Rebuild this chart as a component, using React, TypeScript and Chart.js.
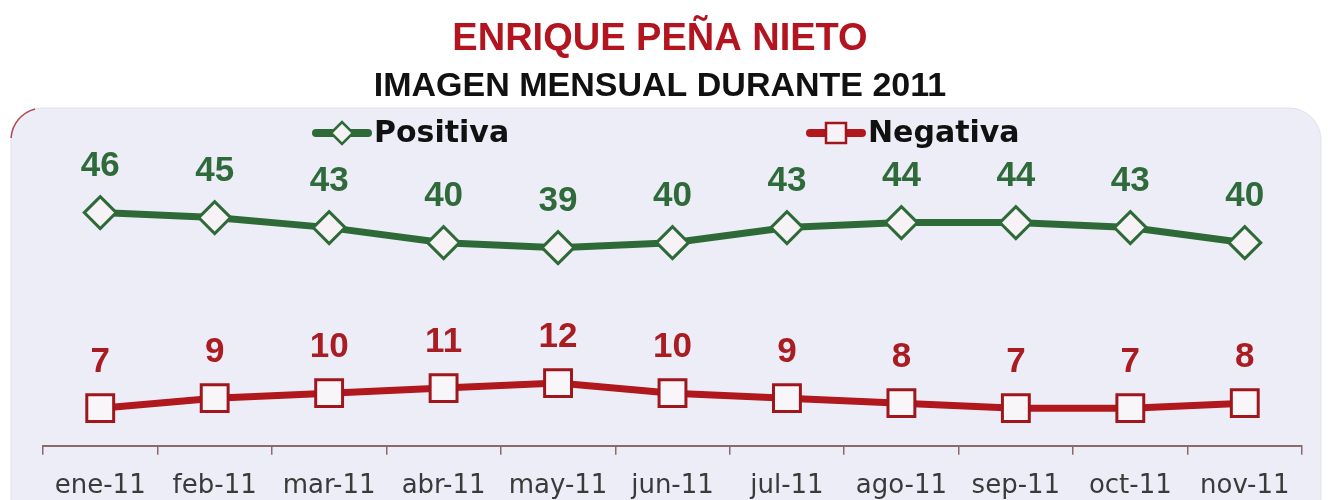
import React, { useEffect, useRef } from "react";
import { Chart, registerables } from "chart.js";

Chart.register(...registerables);

const categories = ["ene-11", "feb-11", "mar-11", "abr-11", "may-11", "jun-11", "jul-11", "ago-11", "sep-11", "oct-11", "nov-11"];
const positiva = [46, 45, 43, 40, 39, 40, 43, 44, 44, 43, 40];
const negativa = [7, 9, 10, 11, 12, 10, 9, 8, 7, 7, 8];
const seriesNames = ["Positiva", "Negativa"];
const titleText = "ENRIQUE PEÑA NIETO";
const subtitleText = "IMAGEN MENSUAL DURANTE 2011";

const GREEN = "#2E6A37";
const GREEN_LABEL = "#2F6A3A";
const RED = "#B0181E";
const RED_LABEL = "#A81C22";

const panelPlugin = {
  id: "panel",
  beforeDraw(chart: any) {
    const { ctx, width, height } = chart;
    ctx.save();
    ctx.fillStyle = "#ffffff";
    ctx.fillRect(0, 0, width, height);
    const x = 11, y = 108, r = 32;
    const w = width - x - 7;
    ctx.beginPath();
    ctx.roundRect(x, y, w, height - y + 60, r);
    ctx.fillStyle = "#EDEDF7";
    ctx.fill();
    ctx.strokeStyle = "rgba(225,225,235,1)";
    ctx.lineWidth = 1;
    ctx.stroke();
    ctx.beginPath();
    ctx.arc(x + r, y + r, r, Math.PI * 1.02, Math.PI * 1.42);
    ctx.strokeStyle = "rgba(170,45,55,0.85)";
    ctx.lineWidth = 1.5;
    ctx.stroke();
    ctx.restore();
  },
};

const legendPlugin = {
  id: "customLegend",
  afterDraw(chart: any) {
    const { ctx } = chart;
    const starts = [312, 806];
    const yy = 133;
    chart.data.datasets.forEach((ds: any, i: number) => {
      const sx = starts[i];
      ctx.save();
      ctx.lineCap = "round";
      ctx.lineWidth = 8;
      ctx.strokeStyle = ds.borderColor;
      ctx.beginPath();
      ctx.moveTo(sx + 4, yy);
      ctx.lineTo(sx + 56, yy);
      ctx.stroke();
      const cx = sx + 30;
      ctx.lineWidth = 2.5;
      ctx.fillStyle = "#F6F2F6";
      ctx.strokeStyle = ds.pointBorderColor;
      ctx.beginPath();
      if (ds.pointStyle === "rectRot") {
        const rr = 11;
        ctx.moveTo(cx - rr, yy);
        ctx.lineTo(cx, yy - rr);
        ctx.lineTo(cx + rr, yy);
        ctx.lineTo(cx, yy + rr);
        ctx.closePath();
      } else {
        const s = 10;
        ctx.rect(cx - s, yy - s, 2 * s, 2 * s);
      }
      ctx.fill();
      ctx.stroke();
      ctx.fillStyle = "#111111";
      ctx.font = "bold 30px 'DejaVu Sans'";
      ctx.textAlign = "left";
      ctx.textBaseline = "middle";
      ctx.fillText(ds.label, sx + 62, yy + 1);
      ctx.restore();
    });
  },
};

const labelPlugin = {
  id: "valueLabels",
  afterDatasetsDraw(chart: any) {
    const { ctx } = chart;
    chart.data.datasets.forEach((ds: any, i: number) => {
      const meta = chart.getDatasetMeta(i);
      ctx.save();
      ctx.font = "bold 35px 'Liberation Sans'";
      ctx.textAlign = "center";
      ctx.textBaseline = "middle";
      ctx.fillStyle = ds.labelColor;
      meta.data.forEach((pt: any, j: number) => {
        ctx.fillText(String(ds.data[j]), pt.x, pt.y - 46);
      });
      ctx.restore();
    });
  },
};

export default function App() {
  const ref = useRef<HTMLCanvasElement>(null);
  useEffect(() => {
    document.body.style.margin = "0";
    const chart = new Chart(ref.current as HTMLCanvasElement, {
      type: "line",
      data: {
        labels: categories,
        datasets: [
          {
            label: seriesNames[0],
            data: positiva,
            borderColor: GREEN,
            borderWidth: 7,
            tension: 0,
            pointStyle: "rectRot",
            pointRadius: 16,
            pointBackgroundColor: "#F6F2F6",
            pointBorderColor: GREEN,
            pointBorderWidth: 3,
            labelColor: GREEN_LABEL,
          } as any,
          {
            label: seriesNames[1],
            data: negativa,
            borderColor: RED,
            borderWidth: 7,
            tension: 0,
            pointStyle: "rect",
            pointRadius: 19,
            pointBackgroundColor: "#F8F6F8",
            pointBorderColor: "#A0161D",
            pointBorderWidth: 3,
            labelColor: RED_LABEL,
          } as any,
        ],
      },
      options: {
        animation: false,
        responsive: false,
        layout: { padding: { left: 18, right: 26, top: 0, bottom: -18 } },
        plugins: {
          legend: { display: false },
          tooltip: { enabled: false },
          title: {
            display: true,
            text: titleText,
            color: "#B2151F",
            font: { family: "'Liberation Sans'", size: 38, weight: "bold", lineHeight: 1.2 },
            padding: { top: 17, bottom: 0 },
          },
          subtitle: {
            display: true,
            text: subtitleText,
            color: "#111111",
            font: { family: "'Liberation Sans'", size: 34, weight: "bold", lineHeight: 1.2 },
            padding: { top: 4, bottom: 53 },
          },
        },
        scales: {
          x: {
            offset: true,
            grid: {
              offset: true,
              drawOnChartArea: false,
              drawTicks: true,
              tickLength: 9,
              color: "#8A6A6A",
              lineWidth: 1.5,
            },
            border: { display: true, color: "#8A6A6A", width: 2 },
            ticks: {
              color: "#3A3A3A",
              font: { family: "'DejaVu Sans'", size: 26 },
              padding: 16,
              maxRotation: 0,
              autoSkip: false,
            },
          },
          y: {
            display: true,
            min: -0.5,
            max: 56.4,
            grid: { display: false },
            border: { display: false },
            ticks: { display: false },
            afterFit(scale: any) {
              scale.width = 25;
            },
          },
        },
      },
      plugins: [panelPlugin, legendPlugin, labelPlugin],
    });
    return () => chart.destroy();
  }, []);
  return <canvas ref={ref} width={1328} height={500} style={{ display: "block" }} />;
}
